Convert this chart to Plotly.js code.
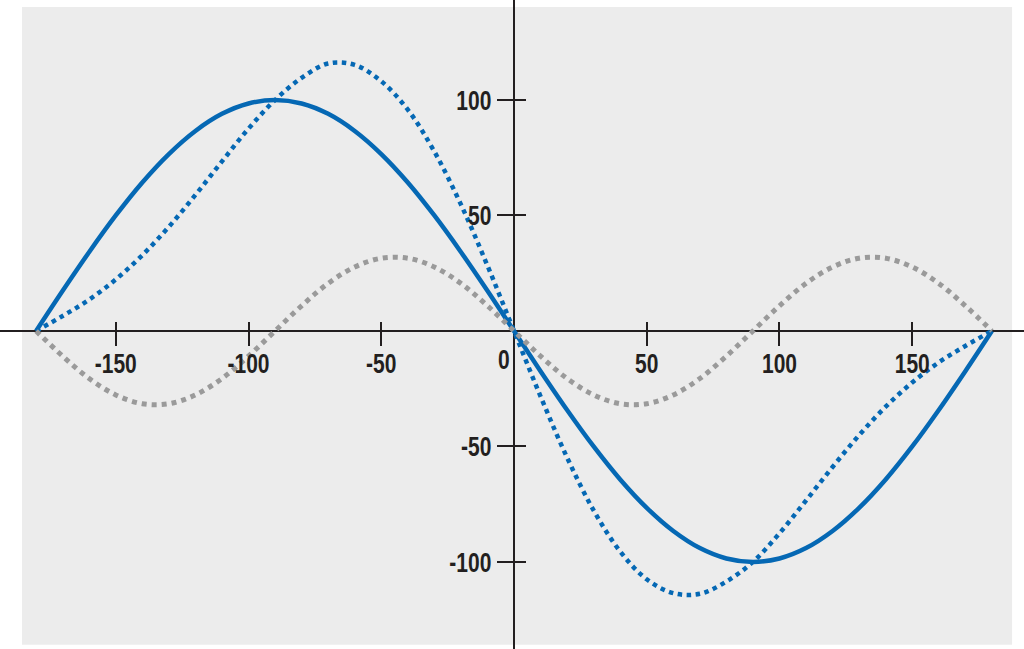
<!DOCTYPE html>
<html>
<head>
<meta charset="utf-8">
<script src="https://cdn.plot.ly/plotly-3.0.1.min.js"></script>
<style>html,body{margin:0;padding:0;background:#fff;}#chart{width:1024px;height:649px;}</style>
</head>
<body>
<div id="chart"></div>
<script>
const xDeg = [-180,-170,-160,-150,-140,-130,-120,-110,-100,-90,-80,-70,-60,-50,-40,-30,-20,-10,0,
              10,20,30,40,50,60,70,80,90,100,110,120,130,140,150,160,170,180];
// Solid blue curve
const solidBlue = [0,17.4,34.2,50,64.3,76.6,86.6,94,98.5,100,98.5,94,86.6,76.6,64.3,50,34.2,17.4,0,
                   -17.4,-34.2,-50,-64.3,-76.6,-86.6,-94,-98.5,-100,-98.5,-94,-86.6,-76.6,-64.3,-50,-34.2,-17.4,0];
// Dotted blue curve
const dottedBlue = [0,6.5,13.6,22.3,32.8,45.1,58.9,73.4,87.6,100,109.6,115.8,115.2,108.1,95.8,77.7,54.8,28.3,0,
                    -28.3,-54.8,-77.7,-95.5,-107.5,-113.5,-113.8,-108.5,-100,-87.6,-73.4,-58.9,-45.1,-32.8,-22.3,-13.6,-6.5,0];
// Dotted grey curve
const dottedGray = [0,-10.9,-20.6,-27.7,-31.5,-31.5,-27.7,-20.6,-10.9,0,10.9,20.6,27.7,31.5,31.5,27.7,20.6,10.9,0,
                    -10.9,-20.6,-27.7,-31.5,-31.5,-27.7,-20.6,-10.9,0,10.9,20.6,27.7,31.5,31.5,27.7,20.6,10.9,0];
// Tick values
const xTicks = [-150,-100,-50,50,100,150];
const xTickText = ['-150','-100','-50','50','100','150'];
const yTicks = [-100,-50,50,100];
const yTickText = ['-100','-50','50','100'];

const xRange = [-193.6, 192.1];
const yRange = [-137.7, 143.3];
const bgX = [-185.3, 187.6];
const bgY = [-135.9, 140.3];

const xAxisPos = (0 - yRange[0]) / (yRange[1] - yRange[0]);
const yAxisPos = (0 - xRange[0]) / (xRange[1] - xRange[0]);

const BLUE = '#0568b4';
const GRAY = '#9a9a9a';
const AX = '#231f20';
const tickFont = {family: 'Liberation Sans, Arial, sans-serif', size: 28, color: '#231f20', weight: 'bold'};

const traces = [
  {x: xDeg, y: solidBlue, type: 'scatter', mode: 'lines', line: {color: BLUE, width: 4.5, shape: 'spline', smoothing: 1}, hoverinfo: 'skip'},
  {x: xDeg, y: dottedBlue, type: 'scatter', mode: 'lines', line: {color: BLUE, width: 4.5, shape: 'spline', smoothing: 1, dash: '4.5px,4.5px'}, hoverinfo: 'skip'},
  {x: xDeg, y: dottedGray, type: 'scatter', mode: 'lines', xaxis: 'x2', yaxis: 'y2', line: {color: GRAY, width: 5, shape: 'spline', smoothing: 1, dash: '5px,5px'}, hoverinfo: 'skip'}
];

const layout = {
  width: 1024, height: 649,
  margin: {l: 0, r: 0, t: 0, b: 0, pad: 0},
  paper_bgcolor: '#ffffff',
  plot_bgcolor: '#ffffff',
  showlegend: false,
  xaxis: {
    range: xRange, anchor: 'free', position: xAxisPos,
    tickmode: 'array', tickvals: xTicks, ticktext: xTickText,
    ticks: 'outside', ticklen: 14, tickwidth: 2, tickcolor: AX,
    tickfont: tickFont, ticklabelstandoff: -7, showgrid: false, showline: false,
    zeroline: true, zerolinecolor: AX, zerolinewidth: 2, fixedrange: true
  },
  xaxis2: {
    overlaying: 'x', matches: 'x', anchor: 'free', position: xAxisPos,
    tickmode: 'array', tickvals: xTicks,
    ticks: 'inside', ticklen: 9, tickwidth: 2, tickcolor: AX,
    showticklabels: false, showgrid: false, showline: false, zeroline: false, fixedrange: true
  },
  yaxis: {
    range: yRange, anchor: 'free', position: yAxisPos,
    tickmode: 'array', tickvals: yTicks, ticktext: yTickText,
    ticks: 'outside', ticklen: 17, tickwidth: 2, tickcolor: AX,
    tickfont: tickFont, showgrid: false, showline: false,
    zeroline: true, zerolinecolor: AX, zerolinewidth: 2, fixedrange: true
  },
  yaxis2: {
    overlaying: 'y', matches: 'y', anchor: 'free', position: yAxisPos,
    tickmode: 'array', tickvals: yTicks,
    ticks: 'inside', ticklen: 11, tickwidth: 2, tickcolor: AX,
    showticklabels: false, showgrid: false, showline: false, zeroline: false, fixedrange: true
  },
  shapes: [
    {type: 'rect', xref: 'x', yref: 'y', x0: bgX[0], x1: bgX[1], y0: bgY[0], y1: bgY[1],
     fillcolor: '#ececec', line: {width: 0}, layer: 'below'}
  ],
  annotations: [
    {x: 0, y: 0, xref: 'x', yref: 'y', text: '0', showarrow: false,
     xanchor: 'center', yanchor: 'middle', xshift: -10, yshift: -29, font: tickFont}
  ]
};

// Condense the bold labels horizontally (the original uses a condensed face)
function condenseLabels(gd) {
  gd.querySelectorAll('.xtick text, .ytick text, .annotation-text').forEach(function (el) {
    const w = el.getComputedTextLength();
    if (w > 0) {
      el.setAttribute('textLength', (w * 0.75).toFixed(2));
      el.setAttribute('lengthAdjust', 'spacingAndGlyphs');
    }
  });
}

Plotly.newPlot('chart', traces, layout, {displayModeBar: false, staticPlot: true}).then(condenseLabels);
</script>
</body>
</html>
